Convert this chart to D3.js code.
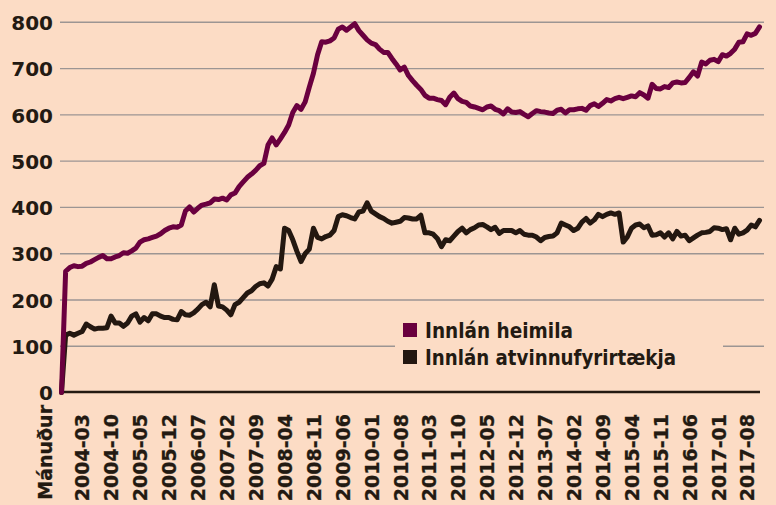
<!DOCTYPE html>
<html>
<head>
<meta charset="utf-8">
<script src="https://cdn.jsdelivr.net/npm/d3@7"></script>
<style>
  body { margin: 0; background: #fcdcc5; }
  svg { display: block; }
  text { font-family: "DejaVu Sans", sans-serif; font-weight: bold; fill: #231a12; }
</style>
</head>
<body>
<script>
  // manudir fra 2003-10 til 2017-11
  var months = []
  for (var y = 2003; y <= 2017; y++) {
    for (var m = 1; m <= 12; m++) {
      if (y == 2003 && m < 10) continue
      if (y == 2017 && m > 11) continue
      months.push(y + '-' + (m < 10 ? '0' + m : m))
    }
  }

  var tickLabels = ['2004-03', '2004-10', '2005-05', '2005-12', '2006-07', '2007-02', '2007-09',
    '2008-04', '2008-11', '2009-06', '2010-01', '2010-08', '2011-03', '2011-10', '2012-05',
    '2012-12', '2013-07', '2014-02', '2014-09', '2015-04', '2015-11', '2016-06', '2017-01', '2017-08']

  var yTicks = [0, 100, 200, 300, 400, 500, 600, 700, 800]

  var heimili = [
    0, 262, 270, 274, 272, 273, 279, 282, 287, 292,
    296, 289, 289, 293, 296, 302, 301, 306, 312, 325,
    330, 332, 335, 338, 343, 350, 355, 358, 357, 362,
    392, 401, 390, 398, 405, 407, 410, 418, 417, 420,
    416, 427, 431, 445, 455, 465, 472, 480, 490, 495,
    535, 550, 535, 548, 562, 578, 605, 620, 612, 628,
    660, 690, 730, 758, 757, 760, 766, 785, 790, 783,
    790, 797, 782, 772, 762, 755, 752, 742, 735, 735,
    722, 710, 697, 703, 685, 674, 664, 655, 642, 636,
    636, 633, 631, 622, 638, 647, 635, 629, 627, 619,
    617, 614, 611, 617, 619, 612, 609, 602, 613, 606,
    605, 607, 601, 596, 603, 609, 607, 606, 604, 603,
    610, 612, 604, 611, 611, 613, 614, 610, 620, 624,
    618, 625, 633, 630, 635, 638, 635, 638, 641, 639,
    648, 643, 636, 666, 657, 656, 661, 659, 669, 671,
    669, 670, 681, 693, 684, 714, 710, 718, 720, 715,
    730, 727, 733, 742, 757, 758, 775, 772, 776, 790
  ]

  var fyrirtaeki = [
    0, 124, 128, 124, 128, 132, 148, 142, 137, 139,
    139, 140, 165, 150, 150, 143, 150, 165, 170, 152,
    162, 155, 170, 170, 165, 162, 162, 158, 157, 175,
    168, 167, 172, 180, 190, 195, 185, 233, 187, 185,
    178, 168, 190, 195, 205, 215, 220, 229, 235, 237,
    230, 245, 272, 267, 355, 350, 330, 305, 283, 300,
    310, 355, 335, 332, 337, 340, 350, 380, 384, 382,
    378, 375, 390, 392, 410, 392, 386, 380, 376, 370,
    366, 368, 370, 378, 377, 375, 375, 383, 345, 345,
    342, 333, 315, 330, 328, 338, 348, 355, 345, 352,
    356, 362, 363, 358, 352, 357, 344, 350, 350, 350,
    345, 350, 342, 340, 340, 336, 328, 335, 337, 338,
    345, 366, 362, 358, 350, 355, 368, 376, 366, 373,
    385, 380, 385, 388, 385, 388, 325, 336, 355, 362,
    364, 356, 360, 340, 341, 345, 336, 345, 332, 348,
    338, 340, 328, 334, 340, 345, 346, 348, 356, 355,
    352, 354, 330, 355, 342, 345, 351, 362, 358, 372
  ]

  var series = [
    { name: 'Innlán atvinnufyrirtækja', values: fyrirtaeki, color: '#231710', w: 251 },
    { name: 'Innlán heimila', values: heimili, color: '#6a003f', w: 148 }
  ]

  var width = 776, height = 505

  var svg = d3.select(document.body).append('svg')
    .attr('width', width)
    .attr('height', height)

  svg.append('rect').attr('width', width).attr('height', height).attr('fill', '#fcdcc5')

  var x = d3.scalePoint().domain(months).range([61.5, 759.5])
  var y = d3.scaleLinear().domain([0, 800]).range([392.5, 22.3])

  // gridlines
  svg.append('g').selectAll('line').data(yTicks.slice(1)).enter().append('line')
    .attr('x1', 60).attr('x2', 764)
    .attr('y1', function(d) { return y(d) }).attr('y2', function(d) { return y(d) })
    .attr('stroke', '#9c9593').attr('stroke-width', 1.4)

  // y axis labels
  var yAxis = d3.axisLeft(y).tickValues(yTicks).tickSize(0).tickPadding(0)
  var gy = svg.append('g').attr('transform', 'translate(53,0)').call(yAxis)
  gy.select('.domain').remove()
  gy.selectAll('text').attr('font-size', 20).attr('dy', '0.36em')
    .style('font-family', '"DejaVu Sans", sans-serif').style('font-weight', 'bold')

  // x axis
  var xAxis = d3.axisBottom(x).tickValues(tickLabels).tickSize(0).tickPadding(0)
  var gx = svg.append('g').attr('transform', 'translate(0,392)').call(xAxis)
  gx.select('.domain').remove()
  gx.selectAll('text')
    .attr('font-size', 19)
    .attr('transform', 'rotate(-90)')
    .attr('text-anchor', 'end')
    .attr('x', -22).attr('y', 0).attr('dy', '0.36em')
    .attr('stroke', '#231a12').attr('stroke-width', 0.3)
    .style('font-family', '"DejaVu Sans", sans-serif').style('font-weight', 'bold')

  svg.append('line').attr('x1', 62).attr('x2', 760).attr('y1', 392).attr('y2', 392)
    .attr('stroke', '#231a12').attr('stroke-width', 2.5)

  svg.append('text').text('Mánuður')
    .attr('transform', 'translate(45,405) rotate(-90)')
    .attr('text-anchor', 'end').attr('dy', '0.36em').attr('font-size', 19)
    .attr('stroke', '#231a12').attr('stroke-width', 0.3)

  // lines
  var line = d3.line()
    .x(function(d, i) { return x(months[i]) })
    .y(function(d) { return y(d) })

  svg.append('g').selectAll('path').data(series).enter().append('path')
    .attr('d', function(d) { return line(d.values) })
    .attr('fill', 'none')
    .attr('stroke', function(d) { return d.color })
    .attr('stroke-width', 5)
    .attr('stroke-linejoin', 'round')
    .attr('stroke-linecap', 'round')

  // legend
  var legend = svg.append('g')
  legend.append('rect').attr('x', 395).attr('y', 312).attr('width', 328).attr('height', 64)
    .attr('fill', '#fcdcc5')
  var items = [series[1], series[0]]
  legend.selectAll('g.item').data(items).enter().append('g').attr('class', 'item')
    .each(function(d, i) {
      var g = d3.select(this)
      g.append('rect').attr('x', 403).attr('y', 323 + i * 27).attr('width', 14).attr('height', 14)
        .attr('fill', d.color)
      g.append('text').attr('x', 425).attr('y', 338 + i * 27).attr('font-size', 20.5)
        .attr('textLength', d.w).attr('lengthAdjust', 'spacingAndGlyphs')
        .text(d.name)
    })
</script>
</body>
</html>
